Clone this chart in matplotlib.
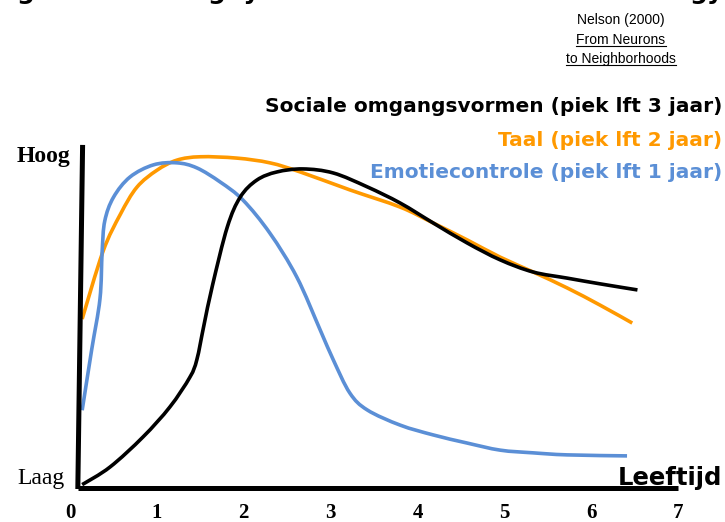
import matplotlib
matplotlib.use("Agg")

import numpy as np
import matplotlib.pyplot as plt
from matplotlib.lines import Line2D
from matplotlib.path import Path
from matplotlib.patches import PathPatch

# =======================
# Data (age in years, level 0 = Laag, 1 = Hoog)
# =======================

age_ticks = [0, 1, 2, 3, 4, 5, 6, 7]

taal_age = [0.14, 0.38, 0.58, 0.77, 1.00, 1.23, 1.50, 1.92, 2.30, 2.65, 3.22,
            3.80, 4.18, 4.57, 4.95, 5.33, 5.72, 6.10, 6.47]
taal_lvl = [0.50, 0.70, 0.81, 0.89, 0.94, 0.97, 0.98, 0.976, 0.962, 0.935, 0.882,
            0.831, 0.784, 0.734, 0.683, 0.639, 0.592, 0.541, 0.488]

emo_age = [0.14, 0.25, 0.345, 0.37, 0.40, 0.50, 0.69, 0.96, 1.23, 1.46, 1.73,
           1.99, 2.30, 2.61, 2.88, 3.03, 3.22, 3.42, 3.80, 4.18, 4.57, 4.95,
           5.33, 5.72, 6.41]
emo_lvl = [0.23, 0.41, 0.56, 0.70, 0.79, 0.86, 0.92, 0.956, 0.962, 0.947, 0.905,
           0.852, 0.754, 0.624, 0.467, 0.379, 0.281, 0.231, 0.186, 0.157, 0.133,
           0.112, 0.104, 0.098, 0.095]

soc_age = [0.14, 0.46, 0.84, 1.15, 1.38, 1.46, 1.54, 1.64, 1.81, 1.96,
           2.15, 2.38, 2.68, 3.03, 3.42, 3.80, 4.18, 4.57, 4.95, 5.33, 5.72,
           6.10, 6.53]
soc_lvl = [0.01, 0.062, 0.151, 0.24, 0.328, 0.38, 0.48, 0.60, 0.772,
           0.861, 0.911, 0.935, 0.944, 0.932, 0.891, 0.843, 0.784, 0.725, 0.675,
           0.639, 0.621, 0.604, 0.586]

legend_labels = ["Sociale omgangsvormen (piek lft 3 jaar)",
                 "Taal (piek lft 2 jaar)",
                 "Emotiecontrole (piek lft 1 jaar)"]

ORANGE = "#ff9900"
BLUE = "#5b8fd6"
BLACK = "#000000"


def smooth_path(xs, ys):
    # Catmull-Rom through the points, drawn as cubic Bezier segments
    p = np.column_stack([xs, ys]).astype(float)
    verts = [p[0]]
    codes = [Path.MOVETO]
    n = len(p)
    for i in range(n - 1):
        p0 = p[i - 1] if i > 0 else p[i]
        p1, p2 = p[i], p[i + 1]
        p3 = p[i + 2] if i + 2 < n else p[i + 1]
        c1 = p1 + (p2 - p0) / 6.0
        c2 = p2 - (p3 - p1) / 6.0
        verts += [c1, c2, p2]
        codes += [Path.CURVE4] * 3
    return Path(verts, codes)


def draw_curve(ax, xs, ys, color):
    ax.add_patch(PathPatch(smooth_path(xs, ys), facecolor="none", edgecolor=color,
                           lw=2.6, capstyle="butt", joinstyle="round"))


# =======================
# Figure
# =======================

W, H, DPI = 725, 522, 100
fig = plt.figure(figsize=(W / DPI, H / DPI), dpi=DPI)
ax = fig.add_axes([0, 0, 1, 1])

# pixel mapping: age 0 -> x=70 px, 1 unit = 86.9 px ; level 0 -> y=488 px, 1 unit = 338 px
px_x0, px_dx = 70, 86.9
px_y0, px_dy = 488, 338
ax.set_xlim(-px_x0 / px_dx, (W - px_x0) / px_dx)
ax.set_ylim((px_y0 - H) / px_dy, px_y0 / px_dy)
ax.axis("off")

# axes lines
ax.plot([0.095, 7.0], [0, 0], color="black", lw=3.6, solid_capstyle="butt")
ax.plot([0.09, 0.145], [-0.003, 1.015], color="black", lw=3.6, solid_capstyle="butt")

# curves
draw_curve(ax, taal_age, taal_lvl, ORANGE)
draw_curve(ax, emo_age, emo_lvl, BLUE)
draw_curve(ax, soc_age, soc_lvl, BLACK)

# tick labels
for a in age_ticks:
    ax.text(a, -0.075, str(a), ha="center", va="center", fontsize=15,
            family="Liberation Serif", weight="bold")

ax.text(0.0, 0.965, "Hoog", ha="right", va="baseline", fontsize=17,
        family="Liberation Serif", weight="bold")
ax.text(-0.06, 0.012, "Laag", ha="right", va="baseline", fontsize=17,
        family="Liberation Serif")
ax.text(7.51, 0.01, "Leeftijd", ha="right", va="baseline", fontsize=17.5,
        family="DejaVu Sans", weight="bold")

# legend texts (right aligned)
for i, (lab, col) in enumerate(zip(legend_labels, [BLACK, ORANGE, BLUE])):
    fig.text(722 / W, 1 - (107 + 33 * i) / H, lab, ha="right", va="center",
             fontsize=14.5, family="DejaVu Sans", weight="bold", color=col)

# reference
ref_lines = ["Nelson (2000)", "From Neurons", "to Neighborhoods"]
ref_texts = []
for i, t in enumerate(ref_lines):
    ref_texts.append(fig.text(621 / W, 1 - (20 + 19.5 * i) / H, t, ha="center",
                              va="center", fontsize=10, family="Liberation Sans"))

fig.canvas.draw()
renderer = fig.canvas.get_renderer()
for t in ref_texts[1:]:
    bb = t.get_window_extent(renderer)
    y = (bb.y0 + 1) / H
    fig.add_artist(Line2D([bb.x0 / W, bb.x1 / W], [y, y], transform=fig.transFigure,
                          color="black", lw=0.8))

# clipped title fragments at the very top
for xp, frag in [(17, "g"), (208, "g  y"), (690, "gy")]:
    fig.text(xp / W, 1 + 1 / H, frag, ha="left", va="baseline", fontsize=18,
             family="DejaVu Sans", weight="bold")

fig.savefig("out.png", dpi=DPI)
plt.close(fig)
